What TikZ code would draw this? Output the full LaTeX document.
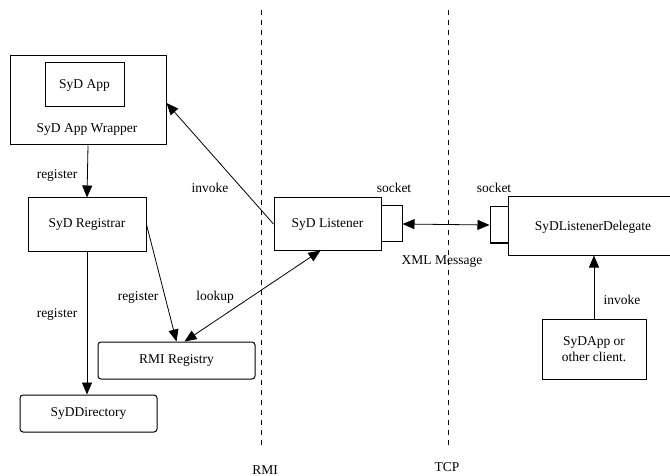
\documentclass[tikz,border=0pt]{standalone}
\usepackage{fontspec}
\setmainfont{Liberation Serif}
\usetikzlibrary{arrows.meta}
\begin{document}
\begin{tikzpicture}[x=1pt,y=-1pt,
  every node/.style={font=\fontsize{13.5}{15.5}\selectfont, inner sep=0pt},
  box/.style={draw, line width=1pt, rectangle},
  rbox/.style={draw, line width=1pt, rectangle, rounded corners=3pt},
  conn/.style={line width=0.8pt},
  arr/.style={conn, -{Triangle[length=12pt,width=10pt]}},
  darr/.style={conn, {Triangle[length=12pt,width=10pt]}-{Triangle[length=12pt,width=10pt]}},
  divider/.style={line width=0.9pt, dash pattern=on 5pt off 5pt},
  lbl/.style={}]
\useasboundingbox (0,0) rectangle (670,476);
\fill[white] (0,0) rectangle (670,476);

% dividers
\coordinate (rmiTop) at (261,10);
\coordinate (rmiBot) at (261,445);
\coordinate (tcpTop) at (448,10);
\coordinate (tcpBot) at (448,445);
\draw[divider] (rmiTop) -- (rmiBot);
\draw[divider] (tcpTop) -- (tcpBot);
\node[lbl] (rmilbl) at (265,470) {RMI};
\node[lbl] (tcplbl) at (447,467) {TCP};

% boxes
\node[box, minimum width=156pt, minimum height=89pt] (wrapper) at (88,100.5) {};
\node[box, minimum width=79pt, minimum height=44pt] (app) at (84.5,85) {SyD App};
\node[lbl] (wraptext) at (87,129) {SyD App Wrapper};
\node[box, minimum width=118pt, minimum height=53pt] (registrar) at (87,224.5) {SyD Registrar};
\node[rbox, minimum width=137pt, minimum height=37pt] (directory) at (88.5,413.5) {SyDDirectory};
\node[rbox, minimum width=157pt, minimum height=37pt] (rmi) at (176.5,360.5) {RMI Registry};
\node[box, minimum width=107pt, minimum height=52pt] (listener) at (327.5,224) {SyD Listener};
\node[box, minimum width=21pt, minimum height=36pt] (sock1) at (391.5,224) {};
\node[box, minimum width=18pt, minimum height=36pt] (sock2) at (499,225) {};
\node[box, minimum width=164pt, minimum height=58pt] (delegate) at (590,226) {};
\node[lbl] (deltext) at (593,227) {SyDListenerDelegate};
\node[box, minimum width=104pt, minimum height=60pt, align=center] (client) at (594,349) {SyDApp or\\other client.};

% connectors
\draw[arr] (wrapper.south) -- (registrar.north);
\draw[arr] (registrar.south) -- (registrar.south |- directory.north);
\draw[arr] (registrar.east) -- (rmi.north);
\draw[darr] ([xshift=8pt]rmi.north) -- ([xshift=-7pt]listener.south);
\draw[arr] (listener.west) -- ([yshift=-2.5pt]wrapper.east);
\draw[darr] (sock1.east) -- (sock2.west);
\draw[arr] (client.north) -- (client.north |- delegate.south);

% labels
\node[lbl] (l1) at (57,175) {register};
\node[lbl] (l2) at (57,314) {register};
\node[lbl] (l3) at (138,297) {register};
\node[lbl] (l4) at (215,297) {lookup};
\node[lbl] (l5) at (210,188) {invoke};
\node[lbl] (l6) at (394,188) {socket};
\node[lbl] (l7) at (494,188) {socket};
\node[lbl] (l8) at (442,262) {XML Message};
\node[lbl] (l9) at (622,300) {invoke};
\end{tikzpicture}
\end{document}
